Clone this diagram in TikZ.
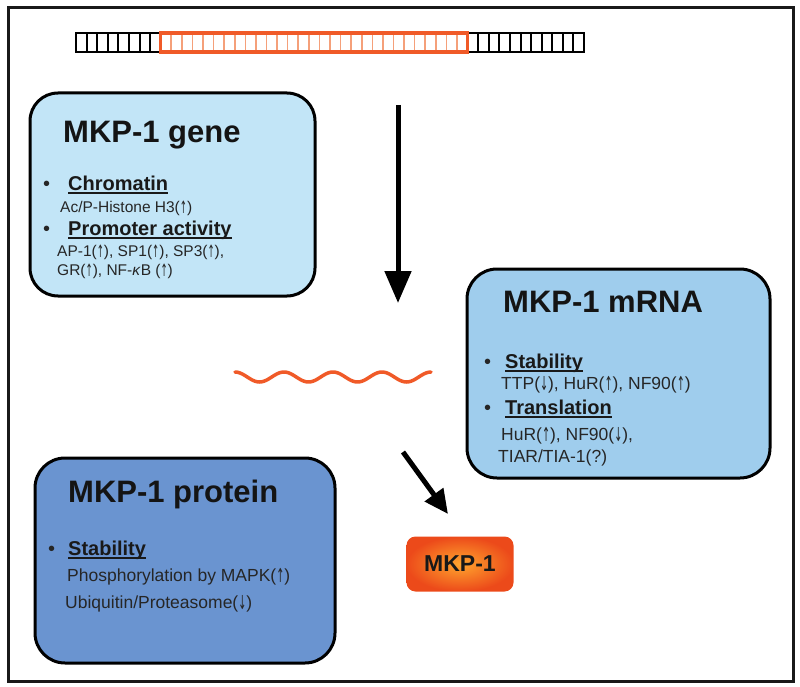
\documentclass[tikz,border=0pt]{standalone}
\usepackage{fontspec}
\setmainfont{Liberation Sans}
\newfontfamily\arrowfont{DejaVu Sans}
\usetikzlibrary{arrows.meta}
\definecolor{genefill}{HTML}{C2E5F7}
\definecolor{rnafill}{HTML}{9FCDED}
\definecolor{protfill}{HTML}{6A94D0}
\definecolor{dnaorange}{HTML}{F05A28}
\definecolor{dnalight}{HTML}{F5A07A}
\definecolor{boxinner}{HTML}{FFA52E}
\definecolor{boxouter}{HTML}{EC4A1A}
\definecolor{bodytext}{HTML}{262626}
\newcommand\myul[1]{\setbox0\hbox{#1}\rlap{\rule[-3.5pt]{\wd0}{1.7pt}}\box0}
\newcommand\myup{\raisebox{-0.08em}{\scalebox{0.55}[1.1]{\arrowfont ↑}}}
\newcommand\mydn{\raisebox{-0.08em}{\scalebox{0.55}[1.1]{\arrowfont ↓}}}
\tikzset{
  bigbox/.style={draw=black, line width=3pt, rounded corners=28pt},
  titletext/.style={anchor=base west, inner sep=0pt, font=\fontsize{31}{31}\selectfont\bfseries, text=black!92},
  headtext/.style={anchor=base west, inner sep=0pt, font=\fontsize{20}{20}\selectfont\bfseries, text=black!90},
  bodygene/.style={anchor=base west, inner sep=0pt, font=\fontsize{15.5}{15.5}\selectfont, text=bodytext},
  bodyrna/.style={anchor=base west, inner sep=0pt, font=\fontsize{17.5}{17.5}\selectfont, text=bodytext},
  bullettext/.style={anchor=base west, inner sep=0pt, font=\fontsize{20}{20}\selectfont, text=bodytext},
  bigarrow/.style={line width=5pt, black}
}
\begin{document}
\begin{tikzpicture}[x=1pt,y=-1pt]
\useasboundingbox (0,0) rectangle (800,687);
% outer frame
\draw[line width=3pt, black!90] (8,8) rectangle (793,681);

% DNA bar
\draw[line width=2pt] (76,33) rectangle (584,52);
\foreach \i in {1,...,7,38,39,40,41,42,43,44,45,46,47}
  \draw[line width=2pt] ({76+\i*10.5833},33) -- ++(0,19);
\fill[white] (160.67,33) rectangle (467.58,52);
\foreach \i in {9,...,36}
  \draw[dnalight, line width=1.6pt] ({76+\i*10.5833},33) -- ++(0,19);
\draw[dnaorange, line width=3.2pt] (160.67,33) rectangle (467.58,52);

% gene box
\draw[bigbox, fill=genefill] (30,93) rectangle (315,296);
\node[titletext] (genetitle) at (63,143) {MKP-1 gene};
\node[bullettext] (gb1) at (43,190) {•};
\node[headtext] (geneh1) at (68,190) {\myul{Chromatin}};
\node[bodygene] (geneb1) at (60,212) {Ac/P-Histone H3(\myup)};
\node[bullettext] (gb2) at (43,235) {•};
\node[headtext] (geneh2) at (68,235) {\myul{Promoter activity}};
\node[bodygene] (geneb2) at (57,256) {AP-1(\myup), SP1(\myup), SP3(\myup),};
\node[bodygene] (geneb3) at (57,275) {GR(\myup), NF-\textit{κ}B (\myup)};

% mRNA box
\draw[bigbox, rounded corners=30pt, fill=rnafill] (467,269) rectangle (770,478);
\node[titletext] (rnatitle) at (503,312) {MKP-1 mRNA};
\node[bullettext] (rb1) at (484,368) {•};
\node[headtext] (rnah1) at (505,368) {\myul{Stability}};
\node[bodyrna] (rnab1) at (501,389) {TTP(\mydn), HuR(\myup), NF90(\myup)};
\node[bullettext] (rb2) at (484,414) {•};
\node[headtext] (rnah2) at (505,414) {\myul{Translation}};
\node[bodyrna] (rnab2) at (501,440) {HuR(\myup), NF90(\mydn),};
\node[bodyrna] (rnab3) at (498,462) {TIAR/TIA-1(?)};

% protein box
\draw[bigbox, rounded corners=30pt, fill=protfill] (35,458) rectangle (335,663);
\node[titletext] (prottitle) at (68,502) {MKP-1 protein};
\node[bullettext] (pb1) at (48,555) {•};
\node[headtext] (proth1) at (68,555) {\myul{Stability}};
\node[bodyrna] (protb1) at (67,581) {Phosphorylation by MAPK(\myup)};
\node[bodyrna] (protb2) at (65,608) {Ubiquitin/Proteasome(\mydn)};

% mRNA squiggle
\draw[dnaorange, line width=3.5pt, line cap=round] plot[domain=0:196, samples=120, smooth] ({235+\x},{377-5*cos(7.34694*\x)});

% arrows
\coordinate (v1) at (398,105);
\coordinate (v2) at (398,303);
\draw[bigarrow, -{Triangle[length=32pt,width=26pt]}] (v1) -- (v2);
\coordinate (d1) at (403,452);
\coordinate (d2) at (448,514);
\draw[bigarrow, -{Triangle[length=24pt,width=22pt]}] (d1) -- (d2);

% MKP-1 product box
\node[rounded corners=9pt, inner color=boxinner, outer color=boxouter,
      minimum width=107pt, minimum height=55pt, inner sep=0pt,
      font=\fontsize{23}{23}\selectfont\bfseries, text=black!90] (mkp) at (460,564) {MKP-1};
\end{tikzpicture}
\end{document}
